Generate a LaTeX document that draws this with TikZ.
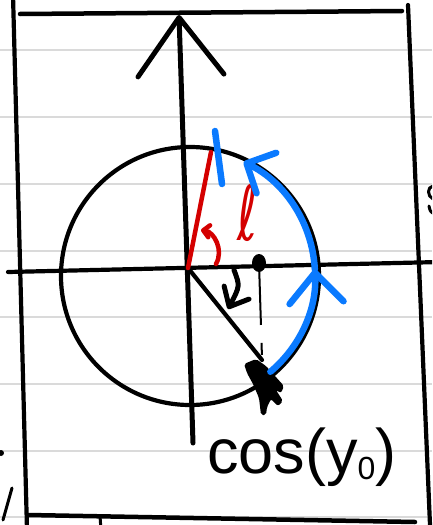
\documentclass[tikz,border=0pt]{standalone}
\usepackage{fontspec}
\setmainfont{Liberation Sans}
\newfontfamily\ellfont{DejaVu Sans}
\usepackage{tikz}
\usetikzlibrary{arrows.meta,calc}
\definecolor{penblue}{RGB}{10,122,255}
\definecolor{penred}{RGB}{212,0,0}
\definecolor{ruling}{RGB}{218,218,218}
\tikzset{
  ink/.style={draw=black, line width=4.2pt, line cap=round, line join=round},
  blueink/.style={draw=penblue, line width=6.5pt, line cap=round, line join=round},
  redink/.style={draw=penred, line width=4.5pt, line cap=round, line join=round},
  ruled/.style={draw=ruling, line width=1.3pt},
}

\begin{document}
\begin{tikzpicture}[x=1pt, y=-1pt]
  \useasboundingbox (0,0) rectangle (432,525);
  \clip (0,0) rectangle (432,525);
  \fill[white] (0,0) rectangle (432,525);
  % ruled paper
  \foreach \yy in {50,117,184,251,317,384,451,517}
    \draw[ruled] (0,\yy) -- (432,\yy);
  % frame
  \draw[ink, line width=4.5pt] (20,14) -- (402,11);
  \draw[ink] (13,-5) -- (27,530);
  \draw[ink] (408,5) -- (430,525);
  \draw[ink, line width=4.5pt] (28,515) -- (415,522);
  \draw[ink, line width=3pt] (100,516) -- (101,530);
  % fragments at the edges
  \draw[ink, line width=3pt] (433,186) .. controls (427,187) and (427,196) .. (433,199);
  \draw[ink, line width=3pt] (429,206) .. controls (430,211) .. (434,214);
  \fill (1,453) circle[radius=3];
  \draw[ink, line width=3pt] (12,488) -- (3,520);
  % points
  \coordinate (O) at (188,268);
  \coordinate (C) at (190,276);
  \coordinate (ytop) at (179,15);
  \coordinate (ybot) at (193,443);
  \coordinate (xleft) at (8,272);
  \coordinate (xright) at (440,262);
  \coordinate (P) at (262,360);
  \coordinate (L) at (211,152);
  \coordinate (D) at (259,263);
  % axes and circle
  \draw[ink, line width=5pt, -{Straight Barb[length=58pt,width=86pt,round]}] (ybot) -- (ytop);
  \draw[ink] (xleft) -- (xright);
  \draw[ink] (C) circle[radius=129];
  % radius to the lower point
  \draw[ink] (O) -- (P);
  \fill[black, rounded corners=2pt] (244,364) -- (256,359) -- (266,366) -- (284,386)
    -- (281,393) -- (276,390) -- (283,401) -- (278,406) -- (271,399) -- (267,407)
    -- (266,415) -- (261,415) -- (259,398) -- (253,384) -- (247,373) -- cycle;
  \draw[ink, line width=5pt, -{Straight Barb[length=16pt,width=28pt,round]}]
    (234,270) .. controls (240,286) .. (228,309);
  % projection
  \fill (D) ellipse[x radius=7, y radius=9];
  \draw[black, line width=2pt, dash pattern=on 62pt off 18pt on 12pt off 40pt] (D) -- (262,358);
  % red radius and angle
  \draw[redink] (O) -- (L);
  \draw[redink, -{Straight Barb[length=6pt,width=12pt,round]}]
    (216,264) .. controls (224,250) and (214,232) .. (201,230);
  \node[text=penred, font=\ellfont\fontsize{76}{76}\selectfont, inner sep=0] (ell) at (248,213) {\scalebox{0.65}[1]{ℓ}};
  % blue arc
  \draw[blueink] (215,131) -- (222,184);
  \draw[blueink, -{Straight Barb[length=30pt,width=54pt,round]}]
    ([shift={(C)}]50:125) arc[start angle=50, end angle=-3, radius=125];
  \draw[blueink, -{Straight Barb[length=22pt,width=45pt,round]}]
    ([shift={(C)}]-3:125) arc[start angle=-3, end angle=-64, radius=127];
  % label
  \node[anchor=base west, font=\fontsize{63}{63}\selectfont, inner sep=0] (cosy) at (207,473)
    {cos(y\raisebox{-6pt}{\fontsize{32}{32}\selectfont 0})};
\end{tikzpicture}
\end{document}
